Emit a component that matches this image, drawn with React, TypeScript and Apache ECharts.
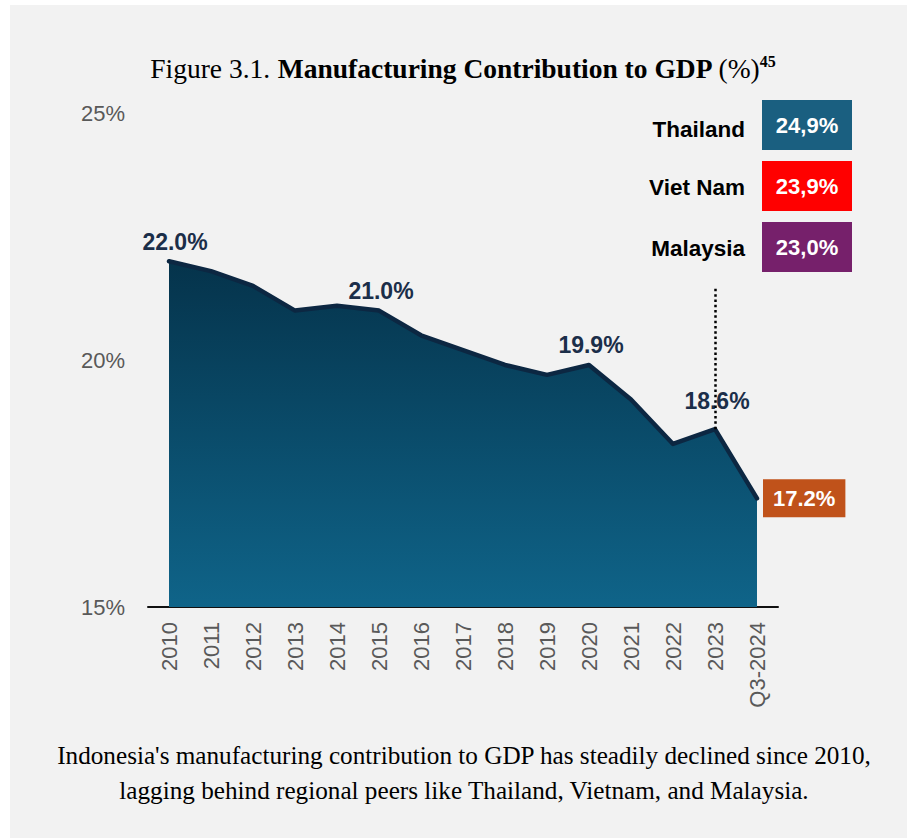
import React, { useEffect, useRef } from "react";
import * as echarts from "echarts";

const categories = ["2010", "2011", "2012", "2013", "2014", "2015", "2016", "2017", "2018", "2019", "2020", "2021", "2022", "2023", "Q3-2024"];
const values = [22.0, 21.8, 21.5, 21.0, 21.1, 21.0, 20.5, 20.2, 19.9, 19.7, 19.9, 19.2, 18.3, 18.6, 17.2];
const labeledCategories = ["2010", "2015", "2020", "2023"];
const yTicks = [15, 20, 25];
const peerNames = ["Thailand", "Viet Nam", "Malaysia"];
const peerValues = ["24,9%", "23,9%", "23,0%"];
const peerColors = ["#1a5f80", "#ff0000", "#76206b"];
const markerCategory = "2023";
const markerTop = 21.45;
const titleParts = ["Figure 3.1. ", "Manufacturing Contribution to GDP ", "(%)", "45"];
const footerLines = [
  "Indonesia's manufacturing contribution to GDP has steadily declined since 2010,",
  "lagging behind regional peers like Thailand, Vietnam, and Malaysia.",
];

const SANS = "'Liberation Sans', Arial, sans-serif";
const SERIF = "'Liberation Serif', 'Times New Roman', serif";

export default function App() {
  const ref = useRef<HTMLDivElement>(null);

  useEffect(() => {
    if (!ref.current) return;
    const chart = echarts.init(ref.current, null, { renderer: "svg" });
    const lastIdx = values.length - 1;

    const seriesData = values.map((v, i) => {
      const cat = categories[i];
      if (i === lastIdx) {
        return {
          value: v,
          label: {
            show: true,
            position: "right",
            distance: 5,
            color: "#ffffff",
            backgroundColor: "#c0521a",
            padding: [8, 10, 8, 10],
            fontSize: 22,
            fontWeight: "bold",
            fontFamily: SANS,
          },
        };
      }
      if (labeledCategories.includes(cat)) {
        const isMarker = cat === markerCategory;
        return {
          value: v,
          label: {
            show: true,
            position: "top",
            distance: isMarker ? 16 : 7,
            offset: i === 0 ? [6, 0] : [2, 0],
          },
        };
      }
      return { value: v };
    });

    const peerGraphics: any[] = [];
    peerNames.forEach((name, i) => {
      const top = 100 + i * 61;
      peerGraphics.push({
        type: "rect",
        shape: { x: 762, y: top, width: 90, height: 50 },
        style: { fill: peerColors[i] },
      });
      peerGraphics.push({
        type: "text",
        x: 807,
        y: top + 25,
        style: {
          text: peerValues[i],
          fill: "#ffffff",
          font: `bold 22px ${SANS}`,
          textAlign: "center",
          textVerticalAlign: "middle",
        },
      });
      peerGraphics.push({
        type: "text",
        x: 745,
        y: top + 26 + (i === 0 ? 3 : 0),
        style: {
          text: name,
          fill: "#000000",
          font: `bold 22.5px ${SANS}`,
          textAlign: "right",
          textVerticalAlign: "middle",
        },
      });
    });

    const option: any = {
      animation: false,
      backgroundColor: "#ffffff",
      grid: { left: 148, right: 129, top: 113, bottom: 231, containLabel: false },
      xAxis: {
        type: "category",
        data: categories,
        boundaryGap: true,
        axisLine: { show: true, lineStyle: { color: "#111111", width: 2 } },
        axisTick: { show: false },
        axisLabel: {
          rotate: 90,
          margin: 15,
          color: "#595959",
          fontSize: 22,
          fontFamily: SANS,
          interval: 0,
        },
        splitLine: { show: false },
      },
      yAxis: {
        type: "value",
        min: yTicks[0],
        max: yTicks[yTicks.length - 1],
        interval: yTicks[1] - yTicks[0],
        axisLine: { show: false },
        axisTick: { show: false },
        splitLine: { show: false },
        axisLabel: {
          margin: 23,
          color: "#595959",
          fontSize: 22,
          fontFamily: SANS,
          formatter: "{value}%",
        },
      },
      graphic: [
        {
          type: "rect",
          z: -10,
          shape: { x: 10, y: 5, width: 897, height: 833 },
          style: { fill: "#f2f2f2" },
          silent: true,
        },
        {
          type: "text",
          x: 463,
          y: 68,
          style: {
            text: `{a|${titleParts[0]}}{b|${titleParts[1]}}{a|${titleParts[2]}}{s|${titleParts[3]}}`,
            textAlign: "center",
            textVerticalAlign: "middle",
            fill: "#000000",
            rich: {
              a: { fontFamily: SERIF, fontSize: 27.5, fill: "#000000", color: "#000000" },
              b: { fontFamily: SERIF, fontSize: 27.5, fontWeight: "bold", fill: "#000000", color: "#000000" },
              s: {
                fontFamily: SERIF,
                fontSize: 16,
                fontWeight: "bold",
                fill: "#000000",
                color: "#000000",
                padding: [0, 0, 13, 0],
              },
            },
          },
        },
        ...footerLines.map((line, i) => ({
          type: "text",
          x: 464,
          y: 755 + i * 35,
          style: {
            text: line,
            font: `25.2px ${SERIF}`,
            fill: "#000000",
            textAlign: "center",
            textVerticalAlign: "middle",
          },
        })),
        ...peerGraphics,
      ],
      series: [
        {
          type: "line",
          data: seriesData,
          showSymbol: true,
          symbol: "circle",
          symbolSize: 2,
          itemStyle: { color: "#0c2742" },
          lineStyle: { color: "#0c2742", width: 4.5, cap: "round", join: "round" },
          areaStyle: {
            opacity: 1,
            color: new echarts.graphic.LinearGradient(0, 0, 0, 1, [
              { offset: 0, color: "#05334b" },
              { offset: 1, color: "#0f6489" },
            ]),
          },
          label: {
            show: false,
            color: "#1b2e49",
            fontSize: 23,
            fontWeight: "bold",
            fontFamily: SANS,
            formatter: (p: any) => `${Number(p.value).toFixed(1)}%`,
          },
          markLine: {
            silent: true,
            symbol: ["none", "none"],
            label: { show: false },
            lineStyle: { color: "#000000", type: [2.5, 2.8], width: 2.5, cap: "butt" },
            data: [
              [
                { coord: [markerCategory, values[categories.indexOf(markerCategory)]] },
                { coord: [markerCategory, markerTop] },
              ],
            ],
          },
        },
      ],
    };

    chart.setOption(option);
    return () => chart.dispose();
  }, []);

  return (
    <div style={{ position: "absolute", left: 0, top: 0, width: 907, height: 838 }}>
      <div ref={ref} style={{ width: 907, height: 838 }} />
    </div>
  );
}
